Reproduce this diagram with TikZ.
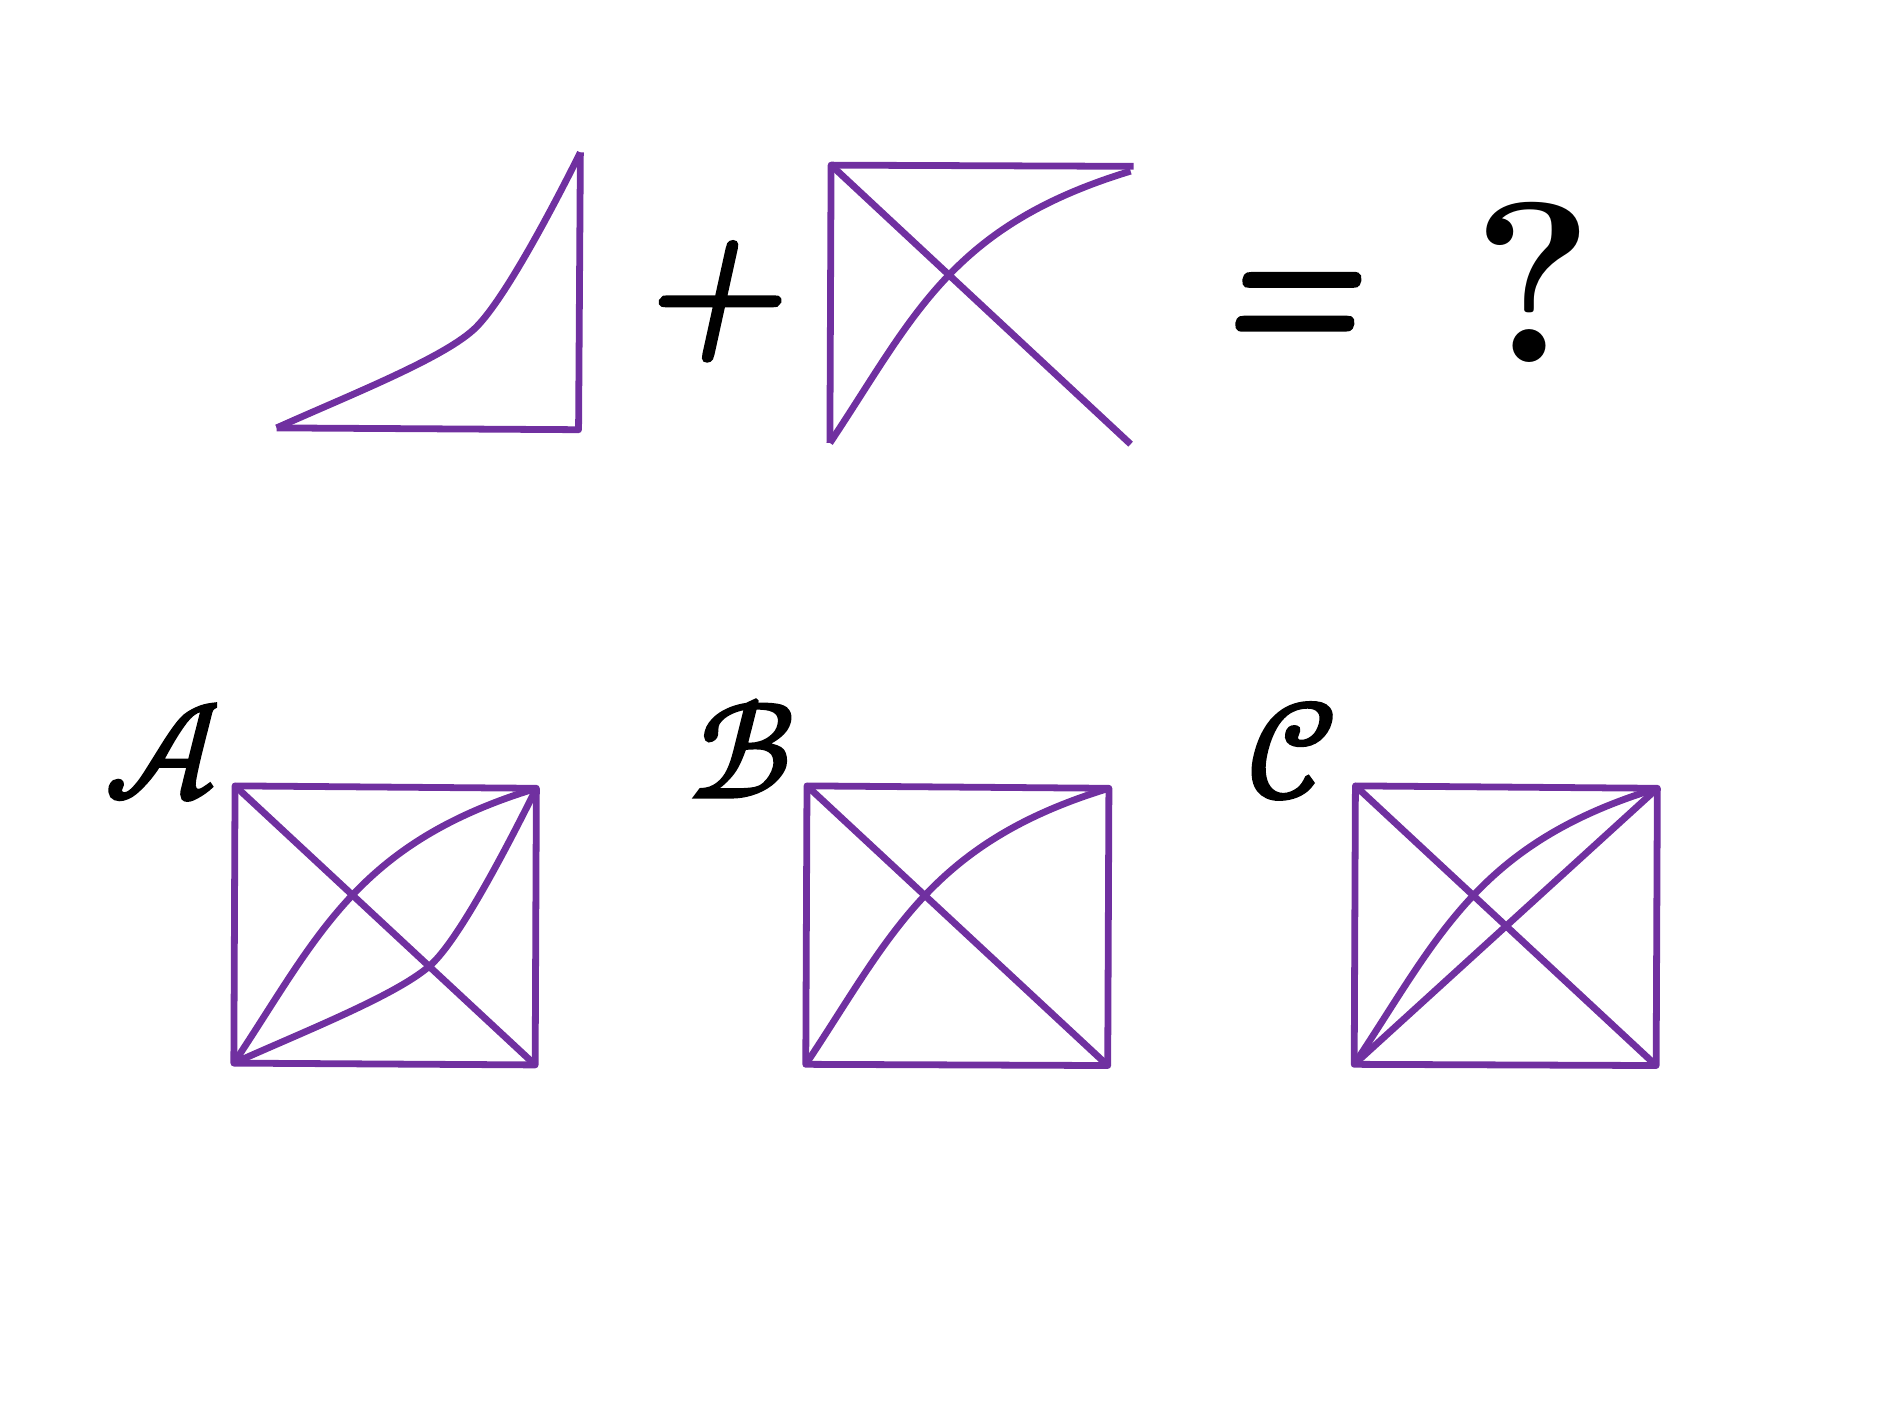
\documentclass[tikz,border=0pt]{standalone}
\usepackage{fontspec}
\usepackage{graphicx}
\usetikzlibrary{calc}
\newfontfamily\calfont[FakeBold=2.5]{Latin Modern Math}
\newfontfamily\opfont[FakeBold=3,FakeSlant=0.22]{Latin Modern Roman}
\definecolor{figpurple}{HTML}{7030A0}
\newcommand\shallowcurve[2]{%
  \draw[fig] (#1) .. controls +(60,-27) and +(-25,25) .. ($(#1)+(165.5,-83.5)$)
    .. controls +(25,-25) and +(-20,40) .. (#2);}
\newcommand\steepcurve[2]{%
  \draw[fig] (#1) .. controls +(70,-105) and +(-150,45.5) .. (#2);}
\begin{document}
\begin{tikzpicture}[x=0.01cm,y=-0.01cm,
  fig/.style={draw=figpurple,line width=1.6pt,line join=round,line cap=butt},
  sym/.style={inner sep=0pt,font=\fontsize{44}{50}\selectfont\opfont},
  qmark/.style={inner sep=0pt,font=\fontsize{54}{60}\selectfont\bfseries},
  lab/.style={inner sep=0pt,font=\fontsize{32}{38}\selectfont\calfont}]
\useasboundingbox (0,0) rectangle (1568,1176);
% --- top: triangle with curve
\coordinate (tBL) at (229.5,355);
\coordinate (tBR) at (480,356.5);
\coordinate (tT) at (481.5,126.5);
\draw[fig] (tT) -- (tBR) -- (tBL);
\shallowcurve{tBL}{tT}
\node[sym] (plus) at (589,250) {+};
% --- top: square part
\coordinate (sTL) at (689.5,137);
\coordinate (sTR) at (940.5,138);
\coordinate (sBL) at (688.5,367.5);
\coordinate (sBR) at (938,368.5);
\coordinate (sC) at (938,142);
\draw[fig] (sTR) -- (sTL) -- (sBL);
\draw[fig] (sTL) -- (sBR);
\steepcurve{sBL}{sC}
\node[sym] (eq) at (1069,265) {\scalebox{0.97}[1.32]{=}};
\node[qmark] (q) at (1272,234) {?};
% --- option A
\coordinate (aTL) at (195,652);
\coordinate (aTR) at (445,654);
\coordinate (aBR) at (444,883.5);
\coordinate (aBL) at (194,882);
\draw[fig] (aTL) -- (aTR) -- (aBR) -- (aBL) -- cycle;
\draw[fig] (aTL) -- (aBR);
\steepcurve{aBL}{aTR}
\shallowcurve{aBL}{aTR}
\node[lab] (labA) at (135,624) {𝒜};
% --- option B
\coordinate (bTL) at (669.5,652);
\coordinate (bTR) at (920,654);
\coordinate (bBR) at (919,884);
\coordinate (bBL) at (668.5,883);
\draw[fig] (bTL) -- (bTR) -- (bBR) -- (bBL) -- cycle;
\draw[fig] (bTL) -- (bBR);
\steepcurve{bBL}{bTR}
\node[lab] (labB) at (616,621) {ℬ};
% --- option C
\coordinate (cTL) at (1124.5,652);
\coordinate (cTR) at (1375,654);
\coordinate (cBR) at (1374,884);
\coordinate (cBL) at (1123.5,883);
\draw[fig] (cTL) -- (cTR) -- (cBR) -- (cBL) -- cycle;
\draw[fig] (cTL) -- (cBR);
\steepcurve{cBL}{cTR}
\draw[fig] (cBL) -- (cTR);
\node[lab] (labC) at (1072,623) {𝒞};
\end{tikzpicture}
\end{document}
